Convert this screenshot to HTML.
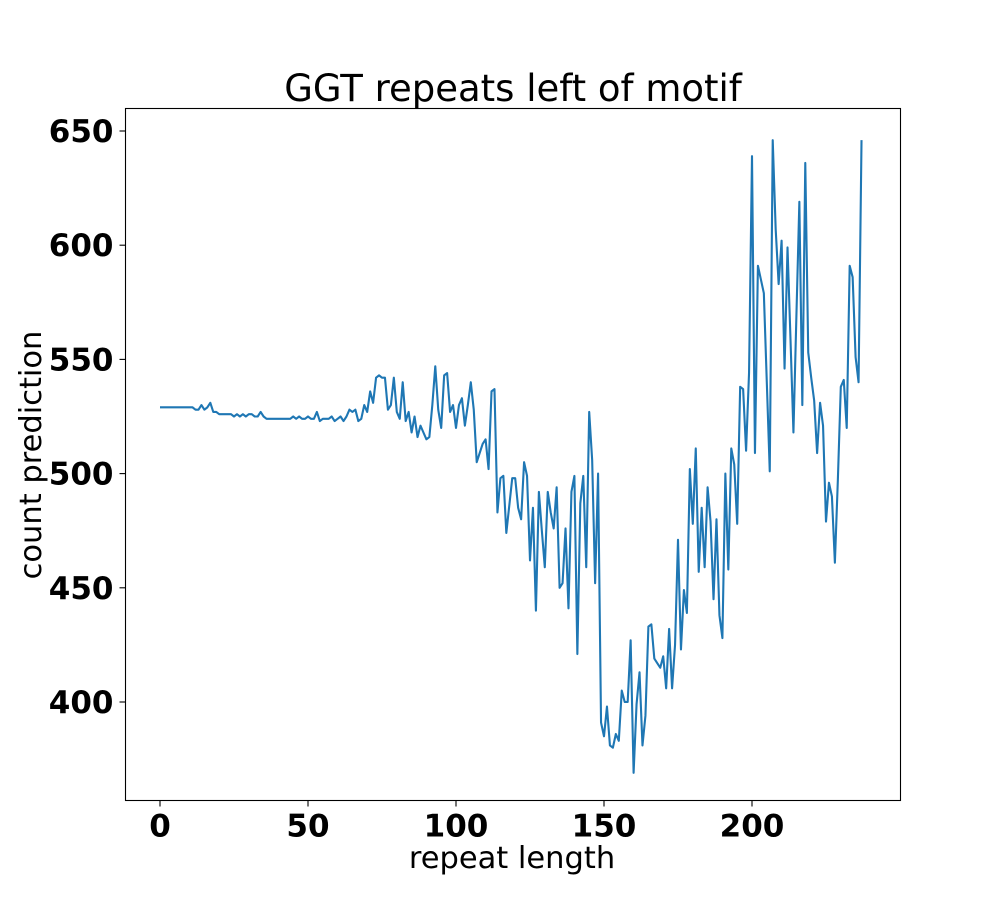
<!DOCTYPE html>
<html><head><meta charset="utf-8"><style>
html,body{margin:0;padding:0;background:#fff;}
svg{display:block;font-family:"DejaVu Sans","Liberation Sans",sans-serif;}
</style></head><body>
<svg id="chart" width="1000" height="900" viewBox="0 0 1000 900" xmlns="http://www.w3.org/2000/svg">
<rect x="0" y="0" width="1000" height="900" fill="#fff"/>
<text x="513" y="101" font-size="37" text-anchor="middle">GGT repeats left of motif</text>
<text x="512" y="868" font-size="30.5" text-anchor="middle">repeat length</text>
<text x="0" y="0" font-size="30.5" text-anchor="middle" transform="translate(41,455) rotate(-90)">count prediction</text>
<g id="ticks"></g>
<path id="series" fill="none" stroke="#1f77b4" stroke-width="2.1" stroke-linejoin="round"/>
<rect x="125.5" y="108.5" width="775" height="692" fill="none" stroke="#000" stroke-width="1.1"/>
</svg>
<script>
const xTicks = [0, 50, 100, 150, 200];
const yTicks = [400, 450, 500, 550, 600, 650];
const values = [
529,529,529,529,529,529,529,529,529,529,529,
529,528,528,530,528,529,531,
527,527,526,526,526,526,526,525,526,525,526,525,526,
526,525,525,527,525,
524,524,524,524,524,524,524,524,524,525,
524,525,524,524,525,524,524,527,523,524,
524,524,525,523,524,525,523,525,528,527,
528,523,524,530,527,536,531,542,
543,542,542,528,530,542,527,524,540,523,527,518,525,516,521,518,515,516,530,547,
528,520,543,544,527,530,520,530,533,521,530,540,528,505,509,513,515,502,536,537,
483,498,499,474,486,498,498,485,480,505,499,462,485,440,492,475,459,492,483,476,
494,450,452,476,441,492,499,421,487,499,459,527,506,452,500,391,385,398,381,380,386,
383,405,400,400,427,369,399,413,381,394,433,434,419,417,415,420,406,432,406,425,
471,423,449,439,502,478,511,457,485,459,494,479,445,480,438,428,500,458,511,504,
478,538,537,510,544,639,509,591,585,579,540,501,646,607,583,602,546,599,559,518,
569,619,530,636,553,542,532,509,531,521,479,496,490,461,497,538,541,520,591,586,
551,540,646
];
const X0 = 125.5, X1 = 900.5, Y0 = 800.5, Y1 = 108.5;
function xs(v){ return 160 + v * 2.96; }
function ys(v){ return 131 + (650 - v) * 2.284; }
const NS = "http://www.w3.org/2000/svg";
const g = document.getElementById('ticks');
xTicks.forEach(t => {
  const l = document.createElementNS(NS, 'line');
  l.setAttribute('x1', xs(t)); l.setAttribute('x2', xs(t));
  l.setAttribute('y1', Y0); l.setAttribute('y2', Y0 + 6);
  l.setAttribute('stroke', '#000'); l.setAttribute('stroke-width', '1.1');
  
  
  g.appendChild(l);
  const tx = document.createElementNS(NS, 'text');
  tx.setAttribute('x', xs(t)); tx.setAttribute('y', Y0 + 36);
  tx.setAttribute('font-size', '31'); tx.setAttribute('font-weight', 'bold');
  tx.setAttribute('text-anchor', 'middle');
  tx.textContent = t;
  
  
  g.appendChild(tx);
});
yTicks.forEach(t => {
  const l = document.createElementNS(NS, 'line');
  l.setAttribute('x1', X0 - 6); l.setAttribute('x2', X0);
  l.setAttribute('y1', ys(t)); l.setAttribute('y2', ys(t));
  l.setAttribute('stroke', '#000'); l.setAttribute('stroke-width', '1.1');
  
  
  g.appendChild(l);
  const tx = document.createElementNS(NS, 'text');
  tx.setAttribute('x', X0 - 12); tx.setAttribute('y', ys(t) + 11);
  tx.setAttribute('font-size', '31'); tx.setAttribute('font-weight', 'bold');
  tx.setAttribute('text-anchor', 'end');
  tx.textContent = t;
  
  
  g.appendChild(tx);
});
let d = '';
values.forEach((v, i) => { d += (i ? 'L' : 'M') + xs(i).toFixed(2) + ',' + ys(v).toFixed(2); });
document.getElementById('series').setAttribute('d', d);
</script>
</body></html>
